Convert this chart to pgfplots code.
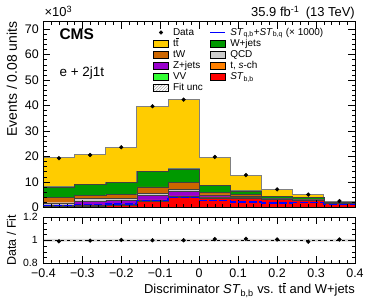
\documentclass[border=0pt]{standalone}
\usepackage{fontspec}
\setmainfont{Liberation Sans}
\usepackage{pgfplots}
\pgfplotsset{compat=1.18}
\usepackage{pgfplotstable}
\usetikzlibrary{patterns}

\definecolor{cTT}{RGB}{255,204,0}
\definecolor{cW}{RGB}{0,153,0}
\definecolor{cTW}{RGB}{204,102,0}
\definecolor{cZ}{RGB}{153,0,204}
\definecolor{cVV}{RGB}{51,255,51}
\definecolor{cQCD}{RGB}{204,204,204}
\definecolor{cTS}{RGB}{255,128,0}
\definecolor{cST}{RGB}{255,0,0}

\newcommand{\fs}[1]{\fontsize{#1}{#1}\selectfont}
\newcommand{\ttb}{t\kern0.02em t\llap{\raisebox{0.74em}{\rule{0.24em}{0.055em}}\kern0.02em}}

% stack components (x10^3 events), left bin edges; last row repeats last bin
\pgfplotstableread{
x     red  vv   ts   z    qcd  tw   w    tt
-0.40 0.30 0.05 0.20 0.45 0.80 2.00 4.20 11.50
-0.32 0.60 0.05 0.25 1.50 1.20 1.00 4.30 11.70
-0.24 1.00 0.05 0.20 1.50 0.75 1.50 4.70 13.80
-0.16 2.50 0.10 0.30 1.80 0.90 2.40 6.20 25.60
-0.08 3.90 0.10 0.50 1.80 0.70 2.70 5.40 27.20
0.00  3.70 0.05 0.35 0.50 0.30 1.10 2.70 10.90
0.08  3.70 0.05 0.25 0.20 0.10 0.70 1.50 6.00
0.16  3.10 0.03 0.10 0.05 0.02 0.20 0.80 2.70
0.24  2.75 0.03 0.10 0.05 0.02 0.10 0.75 1.30
0.32  1.45 0.02 0.10 0.05 0.02 0.20 0.20 0.40
0.40  1.45 0.02 0.10 0.05 0.02 0.20 0.20 0.40
}\stacktab

\pgfplotstableread{
x     data  ratio
-0.36 19.30 0.991
-0.28 20.55 0.997
-0.20 23.60 1.003
-0.12 39.70 1.000
-0.04 42.30 1.000
0.04  19.80 1.010
0.12  12.65 1.013
0.20  7.05  1.007
0.28  5.00  0.988
0.36  2.45  1.007
}\datatab

\pgfplotstableread{
x     st
-0.40 0.60
-0.32 1.10
-0.24 1.30
-0.16 2.80
-0.08 3.90
0.00  2.80
0.08  2.10
0.16  1.70
0.24  1.80
0.32  1.05
0.40  1.05
}\sigtab

\pgfplotsset{
  cmsbase/.style={
    scale only axis, width=311.6bp,
    xmin=-0.4, xmax=0.4,
    xtick={-0.4,-0.3,-0.2,-0.1,0,0.1,0.2,0.3,0.4},
    minor x tick num=4,
    tick align=inside,
    major tick length=7bp, minor tick length=3.5bp,
    tick style={black, line width=0.5bp},
    axis line style={line width=0.8bp},
    /pgf/number format/assume math mode=true,
  },
  swatch/.style={legend image code/.code={\draw[##1, draw=black, line width=0.5bp] (0bp,-3.65bp) rectangle (15bp,3.65bp);}},
  stk/.style={const plot mark left, draw=black!75, line width=0.4bp},
}

\begin{document}
\begin{tikzpicture}
\useasboundingbox (0,0) rectangle (374bp,307bp);

% ---------- top panel: stacked histograms ----------
\begin{axis}[cmsbase, name=top,
  at={(43.4bp,99.7bp)}, anchor=south west, height=185.8bp,
  ymin=0, ymax=73,
  ytick={0,10,...,70}, minor y tick num=4,
  xticklabels={},
  axis on top,
  stack plots=y,
  yticklabel style={font=\fs{12.5}, inner sep=0.45em},
  ylabel={Events / 0.08 units},
  ylabel style={font=\fs{14}, at={(axis description cs:-0.118,1)}, anchor=north east, inner sep=0pt},
]
\addplot[stk, fill=cST]  table[x=x,y=red]{\stacktab} \closedcycle;
\addplot[stk, fill=cVV]  table[x=x,y=vv]{\stacktab} \closedcycle;
\addplot[stk, fill=cTS]  table[x=x,y=ts]{\stacktab} \closedcycle;
\addplot[stk, fill=cZ]   table[x=x,y=z]{\stacktab} \closedcycle;
\addplot[stk, fill=cQCD] table[x=x,y=qcd]{\stacktab} \closedcycle;
\addplot[stk, fill=cTW]  table[x=x,y=tw]{\stacktab} \closedcycle;
\addplot[stk, fill=cW]   table[x=x,y=w]{\stacktab} \closedcycle;
\addplot[const plot mark left, fill=cTT, draw=gray, line width=1bp] table[x=x,y=tt]{\stacktab} \closedcycle;
\end{axis}

% ---------- top panel overlay: signal line, data, legend ----------
\begin{axis}[cmsbase, name=over,
  at={(43.4bp,99.7bp)}, anchor=south west, height=185.8bp,
  ymin=0, ymax=73, hide axis,
  legend columns=2,
  legend cell align=left,
  legend style={draw=none, fill=none, inner sep=0pt, outer sep=0pt,
    font=\fs{10},
    at={(axis description cs:0.3508,0.9707)}, anchor=north west,
    nodes={inner sep=0.3bp, text height=8bp, text depth=2.5bp},
    /tikz/every odd column/.append style={column sep=4.5bp},
    /tikz/every even column/.append style={column sep=6.5bp}},
]
\addplot[const plot mark left, blue, line width=1.1bp, dash pattern=on 8bp off 2.4bp, forget plot] table[x=x,y=st]{\sigtab};
\addplot[only marks, mark=*, mark size=1.9bp, black, forget plot] table[x=x,y=data]{\datatab};

\addlegendimage{legend image code/.code={\fill[black] (8bp,0) circle (1.9bp); \path (0bp,0) (15bp,0);}}
\addlegendentry{Data}
\addlegendimage{legend image code/.code={\draw[blue, line width=1bp] (0bp,0) -- (14.3bp,0);}}
\addlegendentry{\textit{ST}\textsubscript{q,b}+\textit{ST}\textsubscript{b,q} (× 1000)}
\addlegendimage{swatch, fill=cTT}\addlegendentry{\ttb}
\addlegendimage{swatch, fill=cW}\addlegendentry{W+jets}
\addlegendimage{swatch, fill=cTW}\addlegendentry{tW}
\addlegendimage{swatch, fill=cQCD}\addlegendentry{QCD}
\addlegendimage{swatch, fill=cZ}\addlegendentry{Z+jets}
\addlegendimage{swatch, fill=cTS}\addlegendentry{t, \textit{s}-ch}
\addlegendimage{swatch, fill=cVV}\addlegendentry{VV}
\addlegendimage{swatch, fill=cST}\addlegendentry{\textit{ST}\textsubscript{b,b}}
\addlegendimage{legend image code/.code={\fill[pattern=north east lines, pattern color=gray!80] (0bp,-3.65bp) rectangle (15bp,3.65bp);}}
\addlegendentry{Fit unc}
\end{axis}

\node[anchor=base west, font=\fs{13}, inner sep=0pt] at ([xshift=1bp, yshift=4.6bp]top.north west) {×10\textsuperscript{3}};
\node[anchor=base east, font=\fs{13}, inner sep=0pt] at ([yshift=5bp]top.north east) {35.9 fb\textsuperscript{-1}\hspace{0.5em}(13 TeV)};
\node[anchor=base west, font=\bfseries\fs{15.5}, inner sep=0pt] at ([xshift=16bp, yshift=-17.6bp]top.north west) {CMS};
\node[anchor=base west, font=\fs{13.5}, inner sep=0pt] at ([xshift=16bp, yshift=-55bp]top.north west) {e + 2j1t};

% ---------- ratio panel ----------
\begin{axis}[cmsbase, name=ratio,
  at={(43.4bp,43.7bp)}, anchor=south west, height=46bp,
  ymin=0.8, ymax=1.2,
  ytick={0.8,1,1.2}, yticklabels={0.8,1,1.2}, minor y tick num=3,
  xticklabels={−0.4,−0.3,−0.2,−0.1,0,0.1,0.2,0.3,0.4},
  axis on top,
  xticklabel style={font=\fs{12.5}, inner sep=0.5em},
  yticklabel style={font=\fs{10.5}, inner sep=0.55em},
  ylabel={Data / Fit},
  ylabel style={font=\fs{12.5}, at={(axis description cs:-0.118,0.5)}, anchor=north, inner sep=0pt},
  xlabel={Discriminator \textit{ST}\textsubscript{b,b} vs. \ttb{} and W+jets},
  xlabel style={font=\fs{13}, at={(axis description cs:1,0)}, anchor=north east, yshift=-20bp, inner sep=0pt},
]
\addplot[fill=gray!30, draw=none] coordinates {(-0.4,0.988) (0.4,0.988) (0.4,1.012) (-0.4,1.012) (-0.4,0.988)};
\addplot[black, dashed, line width=0.5bp] coordinates {(-0.4,1) (0.4,1)};
\addplot[only marks, mark=*, mark size=1.9bp, black] table[x=x,y=ratio]{\datatab};
\end{axis}
\end{tikzpicture}
\end{document}
